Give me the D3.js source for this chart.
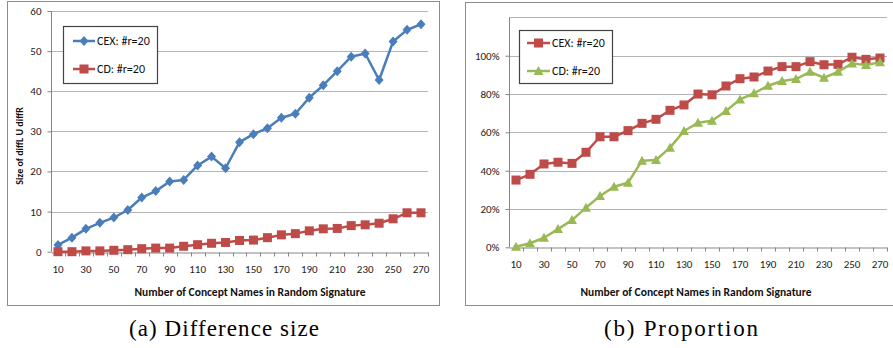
<!DOCTYPE html>
<meta charset="utf-8">
<style>
body { margin: 0; background: #fff; }
svg { display: block; }
.tick text { font: 11px Carlito, "Liberation Sans", sans-serif; fill: #222; }
.axTitle { font: bold 11.5px Carlito, "Liberation Sans", sans-serif; fill: #111; }
.legend text { font: 12px Carlito, "Liberation Sans", sans-serif; fill: #111; }
.caption { font: 23px "Liberation Serif", "DejaVu Serif", serif; fill: #000; }
</style>
<svg width="893" height="348"></svg>
<script src="https://d3js.org/d3.v7.min.js"></script>
<script>

// x categories: number of concept names
var names = [10,20,30,40,50,60,70,80,90,100,110,120,130,140,150,160,170,180,190,200,210,220,230,240,250,260,270];

// (a) difference size
var sizeCEX = [1.7,3.5,5.7,7.2,8.5,10.4,13.5,15.1,17.5,17.9,21.5,23.7,20.8,27.3,29.3,30.8,33.4,34.4,38.4,41.5,45.0,48.6,49.4,42.8,52.4,55.3,56.7];
var sizeCD  = [0.0,0.0,0.2,0.2,0.35,0.5,0.75,0.9,0.9,1.35,1.75,2.1,2.3,2.8,2.9,3.5,4.2,4.5,5.2,5.7,5.8,6.5,6.7,7.1,8.2,9.7,9.7];

// (b) proportion
var propCEX = [0.351,0.381,0.435,0.444,0.438,0.496,0.577,0.577,0.609,0.647,0.668,0.715,0.743,0.800,0.796,0.842,0.880,0.889,0.920,0.943,0.943,0.969,0.953,0.955,0.992,0.981,0.988];
var propCD  = [0.003,0.021,0.050,0.095,0.142,0.207,0.268,0.316,0.337,0.452,0.456,0.520,0.607,0.650,0.661,0.711,0.772,0.804,0.843,0.868,0.878,0.916,0.885,0.916,0.960,0.951,0.966];

var sizeTicks = [0,10,20,30,40,50,60];
var propTicks = [0,0.2,0.4,0.6,0.8,1.0];

var blue = "#4a7ebb", red = "#be4b48", green = "#98b954";

var svg = d3.select("svg");

function frame(x0, y0, x1, y1) {
  svg.append("rect")
    .attr("x", x0 + 0.5).attr("y", y0 + 0.5)
    .attr("width", x1 - x0).attr("height", y1 - y0)
    .attr("fill", "none").attr("stroke", "#8c8c8c");
}

function marker(g, shape, color, cx, cy) {
  if (shape == "diamond") {
    g.append("path")
      .attr("d", "M" + cx + "," + (cy - 5) + "L" + (cx + 4.5) + "," + cy + "L" + cx + "," + (cy + 5) + "L" + (cx - 4.5) + "," + cy + "Z")
      .attr("fill", color);
  } else if (shape == "square") {
    g.append("rect")
      .attr("x", cx - 4.5).attr("y", cy - 4.5).attr("width", 9).attr("height", 9)
      .attr("fill", color);
  } else {
    g.append("path")
      .attr("d", "M" + cx + "," + (cy - 5) + "L" + (cx + 5) + "," + (cy + 4) + "L" + (cx - 5) + "," + (cy + 4) + "Z")
      .attr("fill", color);
  }
}

function chart(opt) {
  var g = svg.append("g");
  var x = d3.scaleBand().domain(names).range([opt.left, opt.right]);
  var y = d3.scaleLinear().domain([0, opt.ymax]).range([opt.bottom, opt.top]);

  // gridlines
  g.selectAll(".grid").data(opt.grid).enter().append("line")
    .attr("x1", opt.left).attr("x2", opt.right)
    .attr("y1", d => Math.round(y(d)) + 0.5).attr("y2", d => Math.round(y(d)) + 0.5)
    .attr("stroke", "#b4b4b4");

  // y axis
  var ya = g.append("g")
    .attr("transform", "translate(" + (Math.round(opt.left) + 0.5) + ",0)")
    .call(d3.axisLeft(y).tickValues(opt.ticks).tickSize(4).tickPadding(6).tickFormat(opt.fmt));
  ya.select(".domain").attr("stroke", "#868686").attr("d", "M0," + opt.top + "V" + opt.bottom);
  ya.selectAll(".tick line").attr("stroke", "#868686");

  // x axis: labels on every other category, ticks on band edges
  var xa = g.append("g")
    .attr("transform", "translate(0," + (Math.round(opt.bottom) + 0.5) + ")")
    .call(d3.axisBottom(x).tickSize(0).tickPadding(11)
      .tickValues(names.filter((d, i) => i % 2 == 0)));
  xa.select(".domain").attr("stroke", "#868686");
  xa.selectAll(".tick text").attr("dy", "0.9em");
  xa.selectAll(".edge").data(names).enter().append("line")
    .attr("x1", d => Math.round(x(d) + x.step()) + 0.5)
    .attr("x2", d => Math.round(x(d) + x.step()) + 0.5)
    .attr("y1", 0).attr("y2", 4)
    .attr("stroke", "#868686");

  // series
  opt.series.forEach(function(s) {
    var line = d3.line().x((d, i) => x(names[i]) + x.bandwidth() / 2).y(d => y(d));
    g.append("path").datum(s.values)
      .attr("d", line).attr("fill", "none")
      .attr("stroke", s.color).attr("stroke-width", 2.5).attr("stroke-linejoin", "round");
    var mg = g.append("g");
    s.values.forEach(function(v, i) {
      marker(mg, s.shape, s.color, x(names[i]) + x.bandwidth() / 2, y(v));
    });
  });

  // legend
  var L = opt.legend;
  var lg = g.append("g").attr("class", "legend");
  lg.append("rect")
    .attr("x", L.x + 0.5).attr("y", L.y + 0.5).attr("width", L.w).attr("height", L.h)
    .attr("fill", "#fff").attr("stroke", "#444").attr("stroke-width", 1.2);
  opt.series.forEach(function(s, i) {
    var yy = L.y + L.first + i * L.gap;
    lg.append("line")
      .attr("x1", L.x + L.lx0).attr("x2", L.x + L.lx1)
      .attr("y1", yy).attr("y2", yy)
      .attr("stroke", s.color).attr("stroke-width", 2.5);
    marker(lg, s.shape, s.color, L.x + (L.lx0 + L.lx1) / 2, yy);
    lg.append("text")
      .attr("x", L.x + L.lx1 + 2).attr("y", yy).attr("dy", "0.35em")
      .text(s.name);
  });

  // titles
  g.append("text").attr("class", "axTitle")
    .attr("x", opt.xtitleX).attr("y", 296)
    .attr("text-anchor", "middle")
    .text("Number of Concept Names in Random Signature");
  if (opt.ytitle) {
    g.append("text").attr("class", "axTitle")
      .attr("transform", "translate(23,146) rotate(-90)")
      .attr("text-anchor", "middle")
      .style("font-size", "10px")
      .text(opt.ytitle);
  }
  g.append("text").attr("class", "caption")
    .attr("x", opt.capX).attr("y", 336)
    .attr("text-anchor", "middle")
    .attr("textLength", opt.capW).attr("lengthAdjust", "spacing")
    .text(opt.caption);
}

frame(7, 1, 439, 305);
frame(465, 2, 900, 305);

chart({
  left: 51, right: 428, top: 11, bottom: 251.7, ymax: 60,
  ticks: sizeTicks, grid: sizeTicks.slice(1), fmt: d => d,
  series: [
    {name: "CEX: #r=20", values: sizeCEX, color: blue, shape: "diamond"},
    {name: "CD: #r=20", values: sizeCD, color: red, shape: "square"}
  ],
  legend: {x: 63, y: 26, w: 94, h: 57, first: 15, gap: 28, lx0: 10, lx1: 32},
  xtitleX: 250, ytitle: "Size of diffL U diffR",
  caption: "(a) Difference size", capX: 224, capW: 190
});

chart({
  left: 509, right: 887, top: 17.4, bottom: 247.3, ymax: 1.2,
  ticks: propTicks, grid: [0.2, 0.4, 0.6, 0.8, 1.0, 1.2], fmt: d3.format(".0%"),
  series: [
    {name: "CEX: #r=20", values: propCEX, color: red, shape: "square"},
    {name: "CD: #r=20", values: propCD, color: green, shape: "triangle"}
  ],
  legend: {x: 519, y: 30, w: 93, h: 53, first: 13, gap: 28, lx0: 8, lx1: 31},
  xtitleX: 696, ytitle: null,
  caption: "(b) Proportion", capX: 681, capW: 154
});

</script>
